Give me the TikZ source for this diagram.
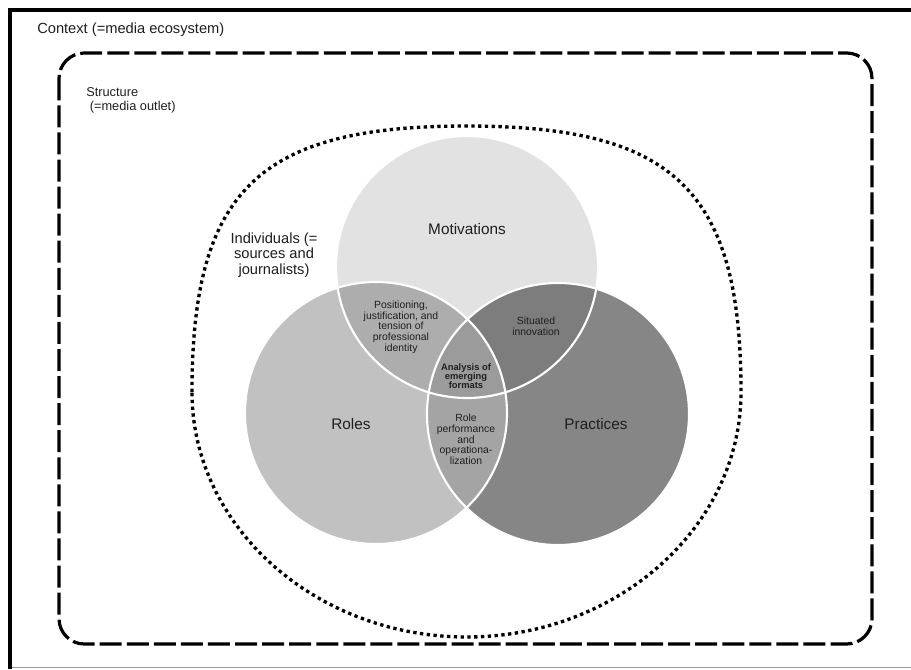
\documentclass[tikz,border=0pt]{standalone}
\usepackage{fontspec}
\setmainfont{Liberation Sans}
\begin{document}
\begin{tikzpicture}[x=0.75pt, y=-0.75pt,
  txt/.style={text=black!88, inner sep=0pt, align=center},
  big/.style={txt, font=\fontsize{11.5}{13}\selectfont},
  small/.style={txt, font=\fontsize{7.8}{8}\selectfont},
  venn edge/.style={draw=white, line width=1.6pt}]
\definecolor{cM}{HTML}{E2E2E2}
\definecolor{cR}{HTML}{C1C1C1}
\definecolor{cP}{HTML}{868686}
\definecolor{cMR}{HTML}{ADADAD}
\definecolor{cMP}{HTML}{7D7D7D}
\definecolor{cRP}{HTML}{A4A4A4}
\definecolor{cC}{HTML}{9B9B9B}
\useasboundingbox (0,0) rectangle (911,669);
\fill[white] (0,0) rectangle (911,669);

% outer frame
\draw[black!40, line width=1pt] (10,667.5) -- (911,667.5);
\draw[black, line width=3pt] (10,669) -- (10,10) -- (911,10);

% context boundary
\draw[line width=2.4pt, dash pattern=on 16.5pt off 3.8pt, rounded corners=19pt]
  (59,53) rectangle (872,644);

% structure boundary: a little fuller on top than below
\draw[line width=2.5pt, dash pattern=on 2.5pt off 2.6pt]
  (192,392) .. controls (192,190) and (259,126) .. (466.5,126)
            .. controls (674,126) and (741,190) .. (741,392)
            .. controls (741,527) and (617,637) .. (466.5,637)
            .. controls (316,637) and (192,527) .. cycle;

% circle centres
\coordinate (cm) at (467,267);
\coordinate (cr) at (376,413);
\coordinate (cp) at (558,414);
\def\rad{131}

% Venn regions
\fill[cM] (cm) circle (\rad);
\fill[cR] (cr) circle (\rad);
\fill[cP] (cp) circle (\rad);
\begin{scope}
  \clip (cm) circle (\rad);
  \fill[cMR] (cr) circle (\rad);
\end{scope}
\begin{scope}
  \clip (cm) circle (\rad);
  \fill[cMP] (cp) circle (\rad);
\end{scope}
\begin{scope}
  \clip (cr) circle (\rad);
  \fill[cRP] (cp) circle (\rad);
\end{scope}
\begin{scope}
  \clip (cm) circle (\rad);
  \clip (cr) circle (\rad);
  \fill[cC] (cp) circle (\rad);
\end{scope}
\draw[venn edge] (cm) circle (\rad);
\draw[venn edge] (cr) circle (\rad);
\draw[venn edge] (cp) circle (\rad);

% labels
\node[txt, anchor=west, font=\fontsize{11}{13}\selectfont] (context) at (37,30) {Context (=media ecosystem)};
\node[txt, anchor=west, align=left, font=\fontsize{9.6}{10.5}\selectfont] (structure) at (86,100) {Structure\\\ (=media outlet)};
\node[txt, font=\fontsize{11}{11.8}\selectfont] (individuals) at (274,255) {Individuals (=\\sources and\\journalists)};

\node[big] (motivations) at (467,229) {Motivations};
\node[big] (roles) at (351,424) {Roles};
\node[big] (practices) at (596,424) {Practices};

\node[small] (positioning) at (401,327) {Positioning,\\justification, and\\tension of\\professional\\identity};
\node[small] (situated) at (536,326) {Situated\\innovation};
\node[txt, font=\bfseries\fontsize{7}{7}\selectfont] (analysis) at (466,376) {Analysis of\\emerging\\formats};
\node[small] (roleperf) at (466,439.5) {Role\\performance\\and\\operationa-\\lization};
\end{tikzpicture}
\end{document}
